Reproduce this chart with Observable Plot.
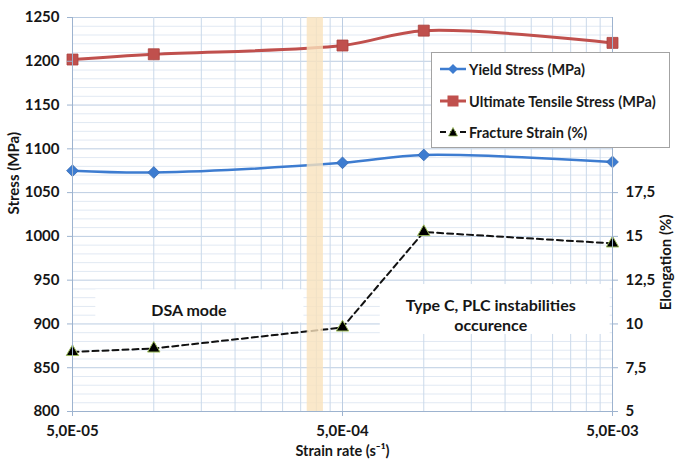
<!DOCTYPE html>
<html>
<head>
<meta charset="utf-8">
<script src="https://cdn.jsdelivr.net/npm/d3@7"></script>
<script src="https://cdn.jsdelivr.net/npm/@observablehq/plot@0.6"></script>
<style>
  html, body { margin: 0; padding: 0; background: #fff; }
  #wrap { position: relative; width: 675px; height: 463px; font-family: Lato, "Open Sans", sans-serif; }
  #legend { position: absolute; left: 431px; top: 52px; width: 239px; height: 96px; border: 1px solid #a3a3a3; background: #fff; box-sizing: border-box; }
  .row { position: absolute; left: 0; height: 18px; display: flex; align-items: center; font-weight: bold; font-size: 14.5px; color: #1a1a1a; white-space: nowrap; }
  .row svg { margin-left: 8px; margin-right: 3px; }
</style>
</head>
<body>
<div id="wrap"><div id="chart"></div><div id="legend"></div></div>
<script>
// ---- data ----
const strainRate = [5e-5, 1e-4, 5e-4, 1e-3, 5e-3];
const yieldStress = [1075, 1073, 1084, 1093, 1085];
const ultimateStress = [1202, 1208, 1218, 1235, 1221];
const fractureStrain = [8.4, 8.6, 9.8, 15.25, 14.6];

const seriesNames = ["Yield Stress (MPa)", "Ultimate Tensile Stress (MPa)", "Fracture Strain (%)"];
const xTickValues = [5e-5, 5e-4, 5e-3];
const stressTicks = [800, 850, 900, 950, 1000, 1050, 1100, 1150, 1200, 1250];
const elongTicks = [5, 7.5, 10, 12.5, 15, 17.5];
const bandRange = [3.7e-4, 4.25e-4];
const annotations = [
  {text: "DSA mode", x: 1.35e-4, y: 917, x1: 6.1e-5, x2: 3.6e-4, y1: 901, y2: 939},
  {text: "Type C, PLC instabilities\noccurence", x: 1.77e-3, y: 911, x1: 6.9e-4, x2: 4.9e-3, y1: 888, y2: 945}
];

// secondary axis mapping: elongation 5..27.5 <-> stress 800..1250
const toStress = v => 800 + (v - 5) * 20;
const fromStress = s => 5 + (s - 800) / 20;

const rows = strainRate.map((x, i) => ({x, ys: yieldStress[i], uts: ultimateStress[i], fs: toStress(fractureStrain[i])}));

const minorY = d3.range(810, 1250, 10).filter(v => v % 50 !== 0);
const majorY = stressTicks.slice(1);
const minorX = [];
[5e-5, 5e-4].forEach(b => { for (let k = 2; k <= 9; k++) minorX.push(b * k); });
const majorX = [5e-4];

const fmtExp = v => {
  const [m, e] = v.toExponential(1).split("e");
  const sign = e[0] === "-" ? "-" : "+";
  const digits = e.replace(/[+-]/, "").padStart(2, "0");
  return m.replace(".", ",") + "E" + sign + digits;
};
const fmtComma = v => String(v).replace(".", ",");

const blue = "#3d7cd0", red = "#c0504d", axisColor = "#9db3cf", textColor = "#161616";

const plot = Plot.plot({
  width: 675, height: 463,
  marginLeft: 72, marginRight: 63, marginTop: 17, marginBottom: 52,
  x: {type: "log", domain: [5e-5, 5e-3]},
  y: {domain: [800, 1250]},
  style: {fontFamily: "Lato, 'Open Sans', sans-serif", fontWeight: "bold", fontSize: "15px", color: textColor, background: "white"},
  marks: [
    Plot.ruleY(minorY, {stroke: "#e1e9f3", strokeWidth: 1}),
    Plot.ruleY(majorY, {stroke: "#bccde2", strokeWidth: 1}),
    Plot.ruleX(minorX, {stroke: "#cad9ea", strokeWidth: 1}),
    Plot.ruleX(majorX, {stroke: "#bccde2", strokeWidth: 1}),
    Plot.rect(annotations, {x1: "x1", x2: "x2", y1: "y1", y2: "y2", fill: "white"}),
    Plot.text(annotations, {x: "x", y: "y", text: "text", fontSize: 16, lineHeight: 1.3, fill: textColor}),
    Plot.line(rows, {x: "x", y: "fs", stroke: "#111", strokeWidth: 2, strokeDasharray: "6,4"}),
    Plot.line(rows, {x: "x", y: "ys", stroke: blue, strokeWidth: 2.5, curve: "catmull-rom"}),
    Plot.line(rows, {x: "x", y: "uts", stroke: red, strokeWidth: 3, curve: "catmull-rom"}),
    Plot.dot(rows, {x: "x", y: "ys", symbol: "diamond2", r: 5.3, fill: blue, stroke: "#3569b3", strokeWidth: 0.8}),
    Plot.dot(rows, {x: "x", y: "uts", symbol: "square", r: 6.2, fill: red, stroke: "#a9423f", strokeWidth: 0.8}),
    Plot.dot(rows, {x: "x", y: "fs", symbol: "triangle", r: 4.6, fill: "#000", stroke: "#9bbb59", strokeWidth: 1}),
    Plot.rect([bandRange], {x1: d => d[0], x2: d => d[1], y1: 800, y2: 1250, fill: "#f9e2bd", fillOpacity: 0.8}),
    Plot.ruleX([5e-5], {stroke: axisColor}),
    Plot.ruleX([5e-3], {stroke: axisColor}),
    Plot.ruleY([800], {stroke: axisColor}),
    Plot.axisY({ticks: stressTicks, tickFormat: d => String(d), tickSize: 5, tickPadding: 8, label: null, stroke: axisColor, fill: textColor}),
    Plot.axisY({anchor: "right", ticks: elongTicks.map(toStress), tickFormat: s => fmtComma(fromStress(s)), tickSize: 5, tickPadding: 8, label: null, stroke: axisColor, fill: textColor}),
    Plot.axisX({ticks: xTickValues, tickFormat: fmtExp, tickSize: 5, tickPadding: 9, label: null, stroke: axisColor, fill: textColor}),
    Plot.text(["Stress (MPa)"], {text: d => d, frameAnchor: "left", dx: -58, rotate: -90, fontSize: 15, fill: textColor}),
    Plot.text(["Elongation (%)"], {text: d => d, frameAnchor: "right", dx: 54, rotate: -90, fontSize: 15, fill: textColor}),
    Plot.text(["Strain rate (s\u207B\u00B9)"], {text: d => d, frameAnchor: "bottom", dy: 44, fontSize: 14.5, fill: textColor})
  ]
});
document.getElementById("chart").appendChild(plot);

// ---- legend (HTML overlay) ----
const legendItems = [
  {name: seriesNames[0], color: blue, marker: "diamond", dash: null, width: 2.5},
  {name: seriesNames[1], color: red, marker: "square", dash: null, width: 3},
  {name: seriesNames[2], color: "#111", marker: "triangle", dash: "6,4", width: 2}
];
const rowCenters = [16, 48, 79];
const legend = document.getElementById("legend");
legendItems.forEach((it, i) => {
  const row = document.createElement("div");
  row.className = "row";
  row.style.top = (rowCenters[i] - 9) + "px";
  let mk = "";
  if (it.marker === "diamond") mk = `<path d="M13,3 L18,8 L13,13 L8,8 Z" fill="${it.color}"/>`;
  if (it.marker === "square") mk = `<rect x="7.5" y="2.5" width="11" height="11" fill="${it.color}"/>`;
  if (it.marker === "triangle") mk = `<path d="M13,3.5 L17.5,12 L8.5,12 Z" fill="#000" stroke="#9bbb59" stroke-width="0.8"/>`;
  const line = it.dash
    ? `<line x1="0" y1="8" x2="26" y2="8" stroke="${it.color}" stroke-width="${it.width}" stroke-dasharray="${it.dash}"/>`
    : `<line x1="0" y1="8" x2="26" y2="8" stroke="${it.color}" stroke-width="${it.width}"/>`;
  row.innerHTML = `<svg width="26" height="16" viewBox="0 0 26 16">${line}${mk}</svg><span>${it.name}</span>`;
  legend.appendChild(row);
});
</script>
</body>
</html>
